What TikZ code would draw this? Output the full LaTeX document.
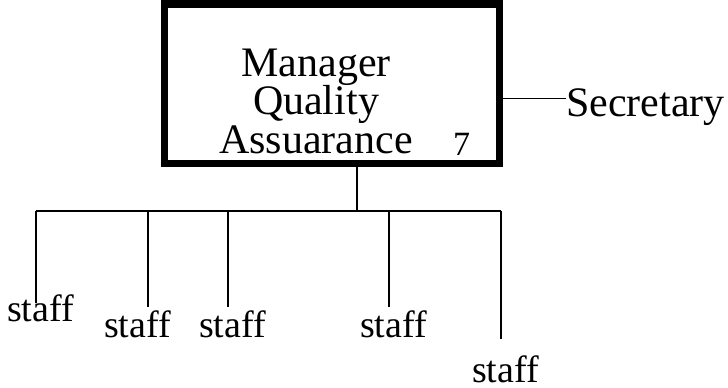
\documentclass[tikz,border=0pt]{standalone}
\usepackage{fontspec}
\setmainfont{Liberation Serif}

\tikzset{
    box/.style={draw, line width=7.5pt, minimum width=335pt,
        minimum height=159.5pt, inner sep=0pt},
    bigtext/.style={inner sep=0pt, font=\fontsize{42}{38.6}\selectfont},
    stafftext/.style={inner sep=0pt, anchor=base west, text depth=0pt,
        font=\fontsize{38}{38}\selectfont},
    wire/.style={line width=1.6pt}
}

\begin{document}
\begin{tikzpicture}[x=1pt, y=-1pt]
    \useasboundingbox (0, 0) rectangle (728, 388);
    \node [box] (qa) at (331.8, 83.5) {};
    \node [bigtext, align=center, anchor=base] (qatext) at (316, 153.3)
        {Manager\\Quality\\Assuarance};
    \node [inner sep=0pt, anchor=base west, font=\fontsize{34}{34}\selectfont]
        (num) at (453, 155) {7};
    \node [bigtext, anchor=base west] (sec) at (566, 116.7) {Secretary};
    \coordinate (secin) at (566, 98.3);
    \draw [wire] (qa.east |- secin) -- (secin);
    % staff below
    \coordinate (bus) at (357, 211);
    \node [stafftext] (s1) at (7, 321) {staff};
    \node [stafftext] (s2) at (104, 337) {staff};
    \node [stafftext] (s3) at (199, 337) {staff};
    \node [stafftext] (s4) at (360, 337) {staff};
    \node [stafftext] (s5) at (472, 382.5) {staff};
    \coordinate (d1) at (36, 303);
    \coordinate (d2) at (148, 307);
    \coordinate (d3) at (228, 307);
    \coordinate (d4) at (389, 307);
    \coordinate (d5) at (501, 339);
    \draw [wire] (bus |- qa.south) -- (bus);
    \draw [wire] (d1 |- bus) -- (d5 |- bus);
    \foreach \d in {d1, d2, d3, d4, d5}
        \draw [wire] (\d |- bus) -- (\d);
\end{tikzpicture}
\end{document}
